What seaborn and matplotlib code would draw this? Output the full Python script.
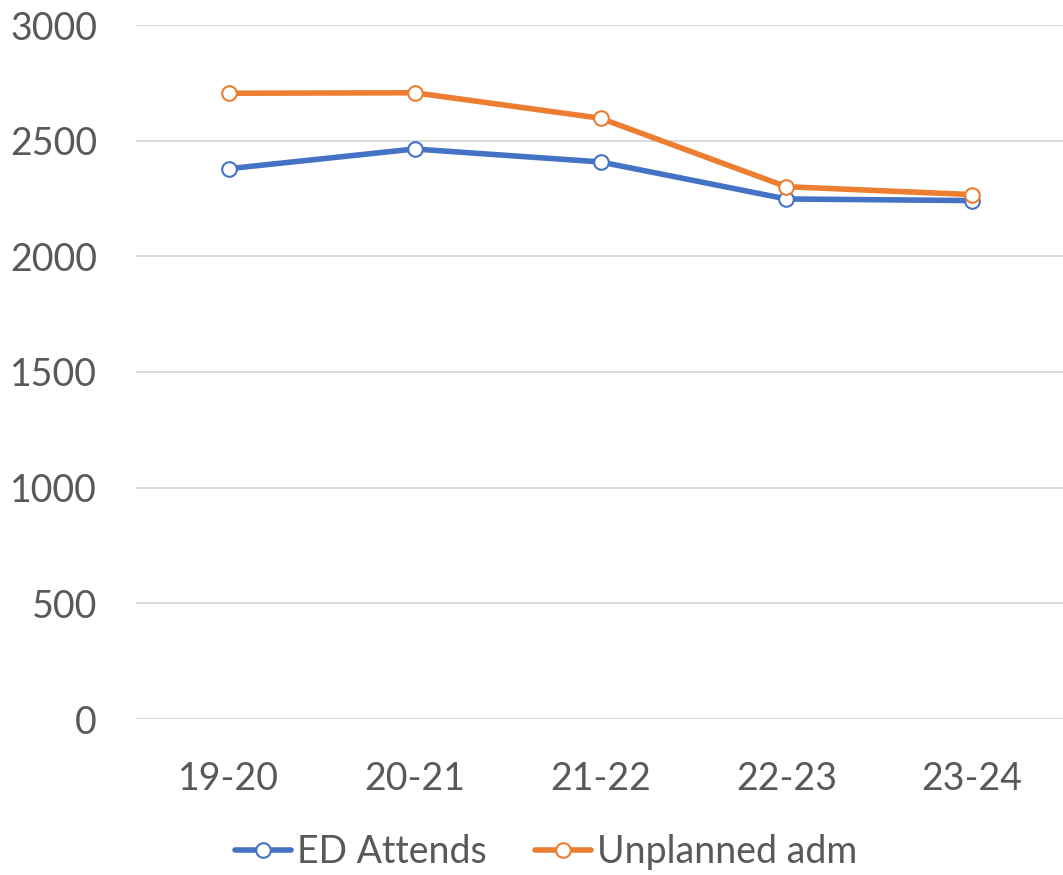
import pandas as pd
import numpy as np
import matplotlib.pyplot as plt
import seaborn as sns

years = ["19-20", "20-21", "21-22", "22-23", "23-24"]
ed_attends = [2379, 2464, 2408, 2248, 2241]
unplanned_adm = [2705, 2707, 2597, 2301, 2267]
series_names = ["ED Attends", "Unplanned adm"]
y_ticks = [0, 500, 1000, 1500, 2000, 2500, 3000]

df = pd.DataFrame({
    "Year": years * 2,
    "Value": ed_attends + unplanned_adm,
    "Series": [series_names[0]] * len(years) + [series_names[1]] * len(years),
})

sns.set_style("white")
plt.rcParams["font.family"] = ["Lato", "DejaVu Sans"]

fig = plt.figure(figsize=(10.63, 8.75), dpi=100)
ax = fig.add_axes([136 / 1063, 1 - 719 / 875, (1065 - 136) / 1063, (719 - 25) / 875])

palette = {"ED Attends": "#4472C4", "Unplanned adm": "#ED7D31"}
sns.lineplot(data=df, x="Year", y="Value", hue="Series", palette=palette, ax=ax,
             linewidth=4, marker="o", markersize=10.5, markerfacecolor="white",
             markeredgewidth=1.5, sort=False)
for line, name in zip(ax.lines, series_names):
    line.set_markeredgecolor(palette[name])

ax.set_xlim(-0.5, 4.5)
ax.set_ylim(0, 3000)
ax.set_yticks(y_ticks)
ax.grid(axis="y", color="#D9D9D9", linewidth=1.4)
ax.set_axisbelow(True)
for s in ax.spines.values():
    s.set_visible(False)
ax.set_xlabel("")
ax.set_ylabel("")
ax.tick_params(axis="both", length=0, labelsize=27, colors="#595959")
ax.tick_params(axis="y", pad=28)
ax.tick_params(axis="x", pad=30)

handles, labels = ax.get_legend_handles_labels()
for h, name in zip(handles, labels):
    h.set_markerfacecolor("white")
    h.set_markeredgecolor(palette[name])
ax.legend(handles, labels, loc="center", bbox_to_anchor=(546 / 1063, 1 - 852 / 875),
          bbox_transform=fig.transFigure, ncol=2, frameon=False, fontsize=27,
          labelcolor="#595959", handlelength=1.5, handletextpad=0.15, columnspacing=1.3)

fig.savefig("out.png", dpi=100)
